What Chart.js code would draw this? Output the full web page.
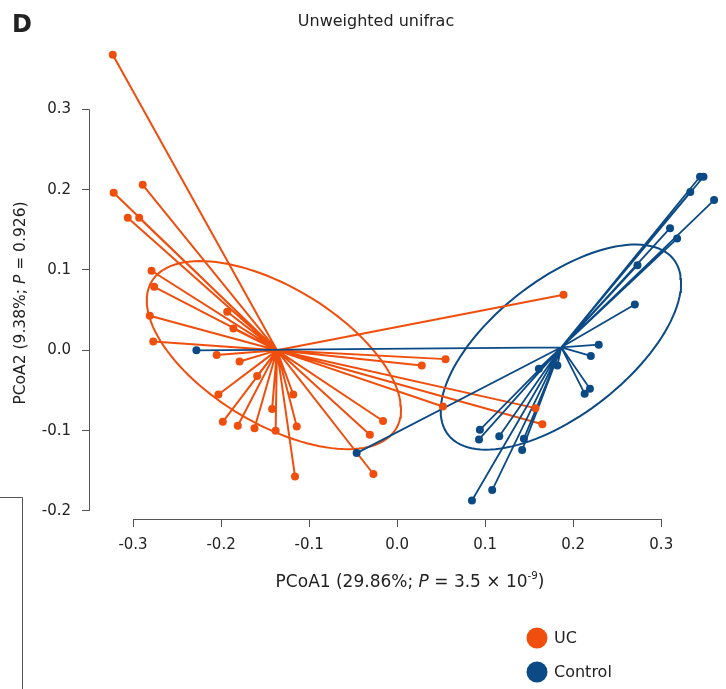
<!DOCTYPE html>
<html>
<head>
<meta charset="utf-8">
<script src="https://cdn.jsdelivr.net/npm/chart.js@4/dist/chart.umd.min.js"></script>
<style>
  html, body { margin: 0; padding: 0; background: #fff; }
  #wrap { width: 726px; height: 689px; position: relative; }
</style>
</head>
<body>
<div id="wrap"><canvas id="pcoa"></canvas></div>
<script>
// PCoA coordinates
const ucX = [-0.323, -0.322, -0.289, -0.306, -0.293, -0.279, -0.276, -0.281, -0.277, -0.193, -0.186,
  -0.205, -0.179, -0.159, -0.203, -0.198, -0.181, -0.162, -0.142, -0.138, -0.118, -0.114, -0.116,
  -0.031, -0.027, -0.016, 0.055, 0.028, 0.189, 0.157, 0.165, 0.052]
const ucY = [0.368, 0.196, 0.206, 0.165, 0.165, 0.099, 0.079, 0.043, 0.011, 0.048, 0.027,
  -0.006, -0.014, -0.032, -0.055, -0.089, -0.094, -0.097, -0.073, -0.100, -0.055, -0.095, -0.157,
  -0.105, -0.154, -0.088, -0.011, -0.019, 0.069, -0.072, -0.092, -0.070]
const ctrlX = [-0.228, -0.046, 0.229, 0.220, 0.219, 0.213, 0.182, 0.161, 0.094, 0.093, 0.116, 0.144,
  0.142, 0.108, 0.085, 0.344, 0.348, 0.333, 0.360, 0.310, 0.318, 0.273, 0.270]
const ctrlY = [0.000, -0.128, 0.007, -0.007, -0.048, -0.054, -0.019, -0.023, -0.099, -0.111, -0.107, -0.110,
  -0.124, -0.174, -0.187, 0.216, 0.216, 0.197, 0.187, 0.152, 0.139, 0.106, 0.057]

// ellipse: centre x, centre y, then two semi-axis vectors (data units)
const ucEllipse = [-0.140, -0.006, 0.1444, -0.0680, 0, 0.0953]
const ctrlEllipse = [0.186, 0.004, 0.1365, 0.0795, 0, 0.0999]

const groups = ['UC', 'Control']
const xTicks = [-0.3, -0.2, -0.1, 0.0, 0.1, 0.2, 0.3]
const yTicks = [-0.2, -0.1, 0.0, 0.1, 0.2, 0.3]

const orange = '#f04e0c'
const blue = '#0c4a86'
const font = "'DejaVu Sans', Verdana, sans-serif"

const toPoints = (xs, ys) => xs.map((x, i) => ({ x, y: ys[i] }))
const mean = arr => arr.reduce((a, b) => a + b, 0) / arr.length

// centroid-to-sample segments, broken by null gaps
const spider = (xs, ys) => {
  const cx = mean(xs)
  const cy = mean(ys)
  const out = []
  xs.forEach((x, i) => {
    out.push({ x: cx, y: cy }, { x, y: ys[i] }, { x, y: null })
  })
  return out
}

const ellipse = e => {
  const pts = []
  for (let k = 0; k <= 120; k++) {
    const t = (k / 120) * Math.PI * 2
    pts.push({ x: e[0] + e[2] * Math.cos(t) + e[4] * Math.sin(t), y: e[1] + e[3] * Math.cos(t) + e[5] * Math.sin(t) })
  }
  return pts
}

const lineSet = (data, color, width) => ({
  data,
  showLine: true,
  spanGaps: false,
  borderColor: color,
  borderWidth: width,
  pointRadius: 0,
  pointHoverRadius: 0
})

const drawRich = (ctx, parts, size) => {
  let w = 0
  parts.forEach(p => {
    ctx.font = (p.italic ? 'italic ' : '') + (p.sup ? size * 0.6 : size) + 'px ' + font
    p.w = ctx.measureText(p.t).width
    w += p.w
  })
  let x = -w / 2
  parts.forEach(p => {
    ctx.font = (p.italic ? 'italic ' : '') + (p.sup ? size * 0.6 : size) + 'px ' + font
    ctx.fillText(p.t, x, p.sup ? -size * 0.45 : 0)
    x += p.w
  })
}

const decor = {
  id: 'decor',
  afterDraw (chart) {
    const { ctx, chartArea, scales } = chart
    const xs = scales.x
    const ys = scales.y
    ctx.save()
    // range-frame axis lines
    ctx.strokeStyle = '#555'
    ctx.lineWidth = 1
    ctx.beginPath()
    const lx = Math.round(chartArea.left) + 0.5
    ctx.moveTo(lx, ys.getPixelForValue(yTicks[yTicks.length - 1]))
    ctx.lineTo(lx, ys.getPixelForValue(yTicks[0]))
    const by = Math.round(chartArea.bottom) + 0.5
    ctx.moveTo(xs.getPixelForValue(xTicks[0]), by)
    ctx.lineTo(xs.getPixelForValue(xTicks[xTicks.length - 1]), by)
    // panel frame fragment
    ctx.moveTo(0, 497.5)
    ctx.lineTo(22.5, 497.5)
    ctx.lineTo(22.5, 689)
    ctx.stroke()

    ctx.fillStyle = '#222'
    ctx.textBaseline = 'alphabetic'
    // panel letter
    ctx.font = 'bold 24px ' + font
    ctx.textAlign = 'left'
    ctx.fillText('D', 12, 32)
    // title
    ctx.font = '16px ' + font
    ctx.textAlign = 'center'
    ctx.fillText('Unweighted unifrac', 376, 26)

    ctx.textAlign = 'left'
    // x axis title
    ctx.save()
    ctx.translate(410, 587)
    drawRich(ctx, [
      { t: 'PCoA1 (29.86%; ' }, { t: 'P', italic: true }, { t: ' = 3.5 × 10' }, { t: '-9', sup: true }, { t: ')' }
    ], 17)
    ctx.restore()
    // y axis title
    ctx.save()
    ctx.translate(25, 303)
    ctx.rotate(-Math.PI / 2)
    drawRich(ctx, [
      { t: 'PCoA2 (9.38%; ' }, { t: 'P', italic: true }, { t: ' = 0.926)' }
    ], 15.5)
    ctx.restore()

    // legend
    const colors = [orange, blue]
    groups.forEach((g, i) => {
      const cy = 638 + i * 34
      ctx.fillStyle = colors[i]
      ctx.beginPath()
      ctx.arc(537, cy, 10.5, 0, Math.PI * 2)
      ctx.fill()
      ctx.fillStyle = '#222'
      ctx.font = '16px ' + font
      ctx.textBaseline = 'middle'
      ctx.fillText(g, 554, cy + 1)
    })
    ctx.restore()
  }
}

new Chart(document.getElementById('pcoa'), { // eslint-disable-line
  type: 'scatter',
  data: {
    datasets: [
      { data: toPoints(ucX, ucY), backgroundColor: orange, borderColor: orange, pointRadius: 4, pointBorderWidth: 0 },
      { data: toPoints(ctrlX, ctrlY), backgroundColor: blue, borderColor: blue, pointRadius: 4, pointBorderWidth: 0 },
      lineSet(spider(ctrlX, ctrlY), blue, 1.8),
      lineSet(spider(ucX, ucY), orange, 2),
      lineSet(ellipse(ctrlEllipse), blue, 2),
      lineSet(ellipse(ucEllipse), orange, 2)
    ]
  },
  options: {
    responsive: true,
    maintainAspectRatio: false,
    animation: false,
    layout: { padding: { left: 0, right: 2, top: 45, bottom: 0 } },
    plugins: {
      legend: { display: false },
      tooltip: { enabled: false },
      title: { display: false }
    },
    scales: {
      x: {
        type: 'linear',
        min: -0.35,
        max: 0.369,
        afterBuildTicks: scale => { scale.ticks = xTicks.map(value => ({ value })) },
        afterFit: scale => { scale.height = 170 },
        border: { display: false },
        grid: { display: true, drawOnChartArea: false, drawTicks: true, tickLength: 8, color: '#555' },
        ticks: {
          color: '#222',
          padding: 9,
          maxRotation: 0,
          font: { family: font, size: 15 },
          callback: v => v.toFixed(1)
        }
      },
      y: {
        type: 'linear',
        min: -0.21,
        max: 0.38,
        afterBuildTicks: scale => { scale.ticks = yTicks.map(value => ({ value })) },
        afterFit: scale => { scale.width = 89 },
        border: { display: false },
        grid: { display: true, drawOnChartArea: false, drawTicks: true, tickLength: 7, color: '#555' },
        ticks: {
          color: '#222',
          padding: 11,
          font: { family: font, size: 15 },
          callback: v => v.toFixed(1)
        }
      }
    }
  },
  plugins: [decor]
})
</script>
</body>
</html>
